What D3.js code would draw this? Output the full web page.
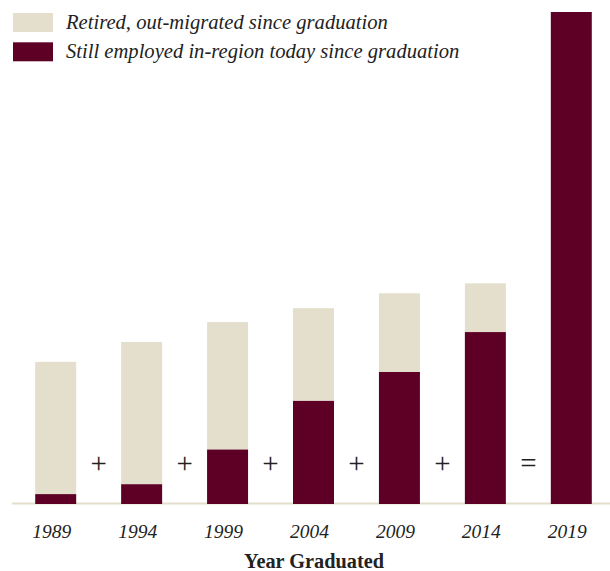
<!DOCTYPE html>
<html><head><meta charset="utf-8">
<script src="https://cdn.jsdelivr.net/npm/d3@7"></script>
<style>body{margin:0;background:#fff}svg{display:block}</style>
</head><body>
<svg id="c" width="610" height="571"></svg>
<script>
const years = ["1989","1994","1999","2004","2009","2014","2019"];
const employed = [10, 20, 55, 104, 133, 173, 495];
const retired = [133, 143, 128, 93, 79, 49, 0];
const operators = ["+","+","+","+","+","="];
const seriesNames = ["Retired, out-migrated since graduation","Still employed in-region today since graduation"];
const colors = {retired:"#e4dfcc", employed:"#5e0025"};

const svg = d3.select("#c");
const x = d3.scaleBand().domain(years).range([12, 615]).paddingInner(0.523).paddingOuter(0.27);
const y = d3.scaleLinear().domain([0, 495]).range([504, 12]);

const data = years.map((yr,i)=>({year:yr, employed:employed[i], retired:retired[i]}));
const stack = d3.stack().keys(["employed","retired"])(data);

svg.append("line").attr("x1",12).attr("x2",610).attr("y1",503.5).attr("y2",503.5)
  .attr("stroke","#e4dfcc").attr("stroke-width",2);

svg.selectAll("g.layer").data(stack).join("g").attr("class","layer")
  .attr("fill",d=>colors[d.key])
  .selectAll("rect").data(d=>d).join("rect")
  .attr("x",d=>x(d.data.year)).attr("width",x.bandwidth())
  .attr("y",d=>y(d[1])).attr("height",d=>y(d[0])-y(d[1]));

// operators between bars
svg.selectAll("text.op").data(operators).join("text").attr("class","op")
  .attr("x",(d,i)=>(x(years[i])+x.bandwidth()+x(years[i+1]))/2)
  .attr("y",473)
  .attr("text-anchor","middle")
  .attr("font-family","Liberation Serif, serif").attr("font-size",29).attr("fill","#222")
  .text(d=>d);

// axis labels
const ax = svg.append("g").attr("transform","translate(0,504)")
  .call(d3.axisBottom(x).tickSize(0).tickPadding(0));
ax.select(".domain").remove();
ax.selectAll("text").attr("dx",-4).attr("dy",0).attr("y",34)
  .attr("font-family","Liberation Serif, serif").attr("font-style","italic")
  .attr("font-size",19.5).attr("fill","#222");

svg.append("text").attr("x",314).attr("y",568).attr("text-anchor","middle")
  .attr("font-family","Liberation Serif, serif").attr("font-weight","bold")
  .attr("font-size",20.3).attr("fill","#222").text("Year Graduated");

// legend
const leg = svg.append("g");
[["retired",seriesNames[0]],["employed",seriesNames[1]]].forEach((d,i)=>{
  leg.append("rect").attr("x",13).attr("y",13+i*29.3).attr("width",40).attr("height",19).attr("fill",colors[d[0]]);
  leg.append("text").attr("x",66).attr("y",28.5+i*29)
    .attr("font-family","Liberation Serif, serif").attr("font-style","italic")
    .attr("font-size",20.6).attr("fill","#222").text(d[1]);
});
</script>
</body></html>
